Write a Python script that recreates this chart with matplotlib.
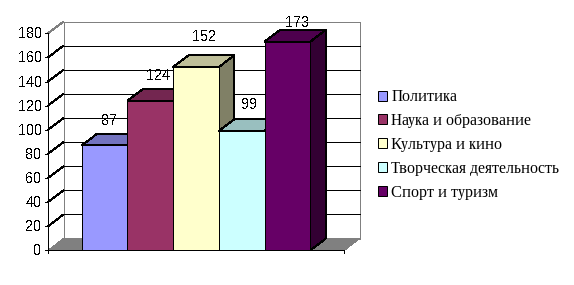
import matplotlib
matplotlib.use("Agg")
import matplotlib.pyplot as plt
from matplotlib.patches import Patch, Polygon

categories = ["Политика", "Наука и образование", "Культура и кино",
              "Творческая деятельность", "Спорт и туризм"]
values = [87, 124, 152, 99, 173]
front_colors = ["#9999FF", "#993366", "#FFFFCC", "#CCFFFF", "#660066"]
top_colors = ["#7373BF", "#732650", "#BFBF99", "#99BFBF", "#4D004D"]
side_colors = ["#4D4D80", "#4D1A33", "#808066", "#668080", "#330033"]
y_ticks = [0, 20, 40, 60, 80, 100, 120, 140, 160, 180]

# value labels sit a little differently above each bar (pixels)
label_off_x = [4.5, 7.8, 8, 7.3, 9.3]
label_off_y = [24.8, 24.8, 29.8, 25.5, 19.1]

# pixel layout of the picture
W, H = 574, 285
x0_px, y0_px = 48, 250.3
bar_px = 45.7
unit_px = 217 / 180
dx = 15.5 / bar_px    # depth of the 3d box, in category units
dy = 11.7 / unit_px   # depth of the 3d box, in value units
bar_start = 33.7 / bar_px
x_end = 296.3 / bar_px
lw = 0.72
GRAY = "#808080"

plt.rcParams["text.antialiased"] = False
plt.rcParams["text.hinting"] = "native"
plt.rcParams["text.hinting_factor"] = 1
plt.rcParams["font.family"] = ["Liberation Sans", "DejaVu Sans"]

fig = plt.figure(figsize=(W / 100, H / 100), dpi=100)
ax = fig.add_axes([0, 0, 1, 1])
ax.set_xlim(-x0_px / bar_px, (W - x0_px) / bar_px)
ax.set_ylim((y0_px - H) / unit_px, y0_px / unit_px)
ax.axis("off")


def line(xs, ys, color="black", z=1):
    ax.plot(xs, ys, color=color, lw=lw, zorder=z, antialiased=False, solid_capstyle="butt")


# floor and walls
ax.add_patch(Polygon([(0, 0), (dx, dy), (x_end + dx, dy), (x_end, 0)],
                     facecolor=GRAY, edgecolor="none", zorder=1, antialiased=False))
top = y_ticks[-1]
line([dx, dx], [dy, top + dy], GRAY)
line([x_end + dx, x_end + dx], [dy, top + dy], GRAY)
line([dx, x_end + dx], [top + dy, top + dy], GRAY)
line([0, dx], [top, top + dy], GRAY)
for t in y_ticks[1:-1]:
    line([dx, x_end + dx], [t + dy, t + dy], z=1)
    line([0, dx], [t, t + dy], z=1)

# bars, left to right so the next one covers the side of the previous one
for i, v in enumerate(values):
    left = bar_start + i
    z = 3 + i
    ax.add_patch(Polygon([(left + 1, 0), (left + 1 + dx, dy), (left + 1 + dx, v + dy), (left + 1, v)],
                         facecolor=side_colors[i], edgecolor="black", lw=lw, zorder=z, antialiased=False))
    ax.add_patch(Polygon([(left, v), (left + dx, v + dy), (left + 1 + dx, v + dy), (left + 1, v)],
                         facecolor=top_colors[i], edgecolor="black", lw=lw, zorder=z, antialiased=False))
    ax.bar(left + 0.5, v, width=1, color=front_colors[i], edgecolor="black", lw=lw, zorder=z, antialiased=False)
    ax.text(left + 0.5 + label_off_x[i] / bar_px, v + label_off_y[i] / unit_px, str(v),
            ha="center", va="center", fontsize=10.5, color="black", zorder=20)

# axes lines, ticks, tick labels
line([0, 0], [0, top], z=15)
line([0, x_end], [0, 0], z=15)
line([0, 0], [0, -3 / unit_px], z=15)
line([x_end, x_end], [0, -3 / unit_px], z=15)
for t in y_ticks:
    line([-3 / bar_px, 0], [t, t], z=15)
    ax.text(-6.5 / bar_px, t - 1 / unit_px, str(t), ha="right", va="center", fontsize=10.5, color="black")

handles = [Patch(facecolor=c, edgecolor="black", lw=lw, antialiased=False) for c in front_colors]
leg = fig.legend(handles, categories, loc="center left", bbox_to_anchor=(378 / W, 1 - 145 / H), frameon=False,
                 fontsize=11.5, handlelength=0.58, handleheight=0.58,
                 handletextpad=0.26, labelspacing=0.62, borderpad=0, borderaxespad=0)
for txt in leg.get_texts():
    txt.set_family(["Liberation Serif", "DejaVu Serif"])
    txt.set_antialiased(True)

plt.savefig("out.png", dpi=100)
plt.close()
